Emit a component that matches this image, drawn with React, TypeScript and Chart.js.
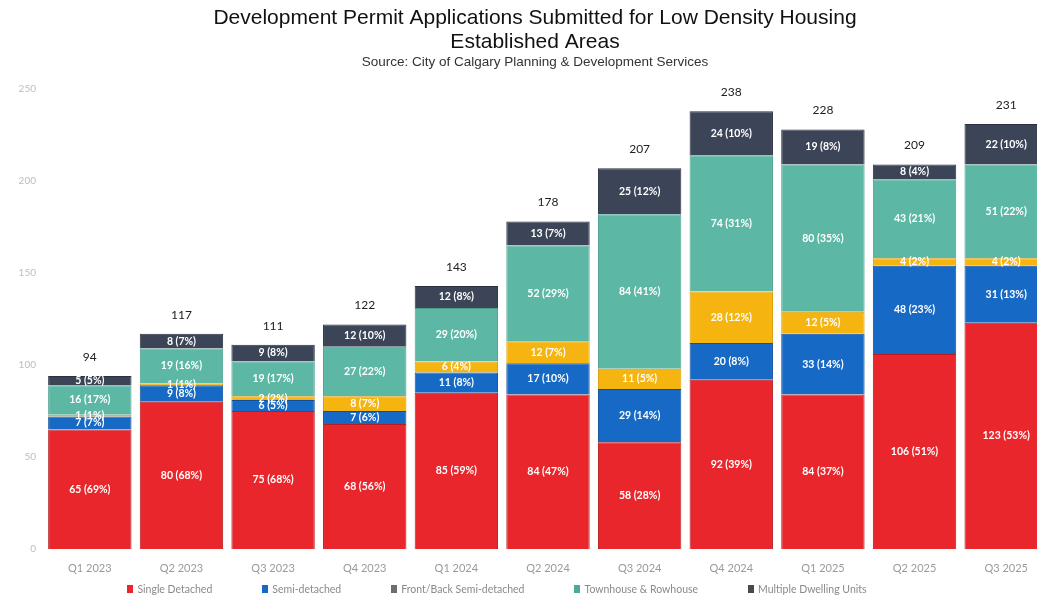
import React, { useEffect, useRef } from "react";
import { Chart, registerables } from "chart.js";

Chart.register(...registerables);

const categories = ["Q1 2023", "Q2 2023", "Q3 2023", "Q4 2023", "Q1 2024", "Q2 2024", "Q3 2024", "Q4 2024", "Q1 2025", "Q2 2025", "Q3 2025"];
const singleDetached = [65, 80, 75, 68, 85, 84, 58, 92, 84, 106, 123];
const semiDetached = [7, 9, 6, 7, 11, 17, 29, 20, 33, 48, 31];
const frontBackSemi = [1, 1, 2, 8, 6, 12, 11, 28, 12, 4, 4];
const townhouseRowhouse = [16, 19, 19, 27, 29, 52, 84, 74, 80, 43, 51];
const multipleDwelling = [5, 8, 9, 12, 12, 13, 25, 24, 19, 8, 22];

const seriesNames = ["Single Detached", "Semi-detached", "Front/Back Semi-detached", "Townhouse & Rowhouse", "Multiple Dwelling Units"];
const seriesValues = [singleDetached, semiDetached, frontBackSemi, townhouseRowhouse, multipleDwelling];
const fillColors = ["#E8262B", "#1769C6", "#F6B410", "#5CB8A5", "#3C4457"];
const borderColors = ["#B51C20", "#0F4E98", "#D99A00", "#4A9E8C", "#2A3040"];
const legendMarkers = ["#E8262B", "#1769C6", "#6E6E6E", "#4FA99A", "#4A4A4A"];

const totals = categories.map((_, i) => seriesValues.reduce((s, arr) => s + arr[i], 0));

const labelPlugin = {
  id: "segmentLabels",
  afterDatasetsDraw(chart: any) {
    const ctx = chart.ctx;
    ctx.save();
    ctx.textAlign = "center";
    ctx.textBaseline = "middle";
    chart.data.datasets.forEach((ds: any, di: number) => {
      const meta = chart.getDatasetMeta(di);
      meta.data.forEach((bar: any, i: number) => {
        const v = ds.data[i];
        const pct = Math.round((v / totals[i]) * 100);
        const y = (bar.y + bar.base) / 2;
        ctx.font = "bold 10.5px Lato, 'Open Sans', sans-serif";
        ctx.fillStyle = "#ffffff";
        ctx.fillText(`${v} (${pct}%)`, bar.x, y);
      });
    });
    const last = chart.getDatasetMeta(chart.data.datasets.length - 1);
    last.data.forEach((bar: any, i: number) => {
      ctx.font = "12px Lato, 'Open Sans', sans-serif";
      ctx.fillStyle = "#222222";
      ctx.fillText(String(totals[i]), bar.x, bar.y - 19);
    });
    ctx.restore();
  },
};

export default function App() {
  const canvasRef = useRef<HTMLCanvasElement | null>(null);

  useEffect(() => {
    if (!canvasRef.current) return;
    const chart = new Chart(canvasRef.current, {
      type: "bar",
      data: {
        labels: categories,
        datasets: seriesNames.map((name, k) => ({
          label: name,
          data: seriesValues[k],
          backgroundColor: fillColors[k],
          borderColor: borderColors[k],
          borderWidth: 1,
          barPercentage: 0.91,
          categoryPercentage: 1,
        })),
      },
      options: {
        animation: false,
        responsive: true,
        maintainAspectRatio: false,
        layout: { padding: { left: 18, right: 0, top: 0, bottom: 0 } },
        plugins: {
          legend: { display: false },
          tooltip: { enabled: false },
          title: {
            display: true,
            text: ["Development Permit Applications Submitted for Low Density Housing", "Established Areas"],
            color: "#111111",
            font: { family: "'Liberation Sans', Arial, sans-serif", size: 21, weight: "normal", lineHeight: 1.15 },
            padding: { top: 6, bottom: 0 },
          },
          subtitle: {
            display: true,
            text: "Source: City of Calgary Planning & Development Services",
            color: "#333333",
            font: { family: "'Liberation Sans', Arial, sans-serif", size: 13.5, weight: "normal", lineHeight: 1.1 },
            padding: { top: 1, bottom: 19 },
          },
        },
        scales: {
          x: {
            stacked: true,
            grid: { display: false, drawTicks: false },
            border: { display: false },
            ticks: { color: "#9a9a9a", font: { family: "Lato, sans-serif", size: 11 }, padding: 13, maxRotation: 0 },
            afterFit: (scale: any) => { scale.height = 50; },
          },
          y: {
            stacked: true,
            min: 0,
            max: 250,
            grid: { display: false, drawTicks: false },
            border: { display: false },
            ticks: { stepSize: 50, color: "#bdbdbd", font: { family: "Lato, sans-serif", size: 10 }, padding: 8 },
            afterFit: (scale: any) => { scale.width = 26; },
          },
        },
      },
      plugins: [labelPlugin],
    });
    return () => chart.destroy();
  }, []);

  return (
    <div style={{ position: "fixed", left: 0, top: 0, width: 1037, height: 599, overflow: "hidden", background: "#fff" }}>
      <div style={{ position: "absolute", left: 0, top: 0, width: 1052, height: 599 }}>
        <canvas ref={canvasRef} />
      </div>
      <div
        style={{
          position: "absolute",
          left: 0,
          top: 583,
          width: 994,
          display: "flex",
          justifyContent: "center",
          gap: 50,
          fontFamily: "Lato, sans-serif",
          fontSize: 10.5,
          color: "#8a8a8a",
          lineHeight: "12px",
        }}
      >
        {seriesNames.map((n, k) => (
          <div key={n} style={{ display: "flex", alignItems: "center", gap: 4 }}>
            <span style={{ display: "inline-block", width: 6, height: 8, background: legendMarkers[k] }} />
            <span>{n}</span>
          </div>
        ))}
      </div>
    </div>
  );
}
